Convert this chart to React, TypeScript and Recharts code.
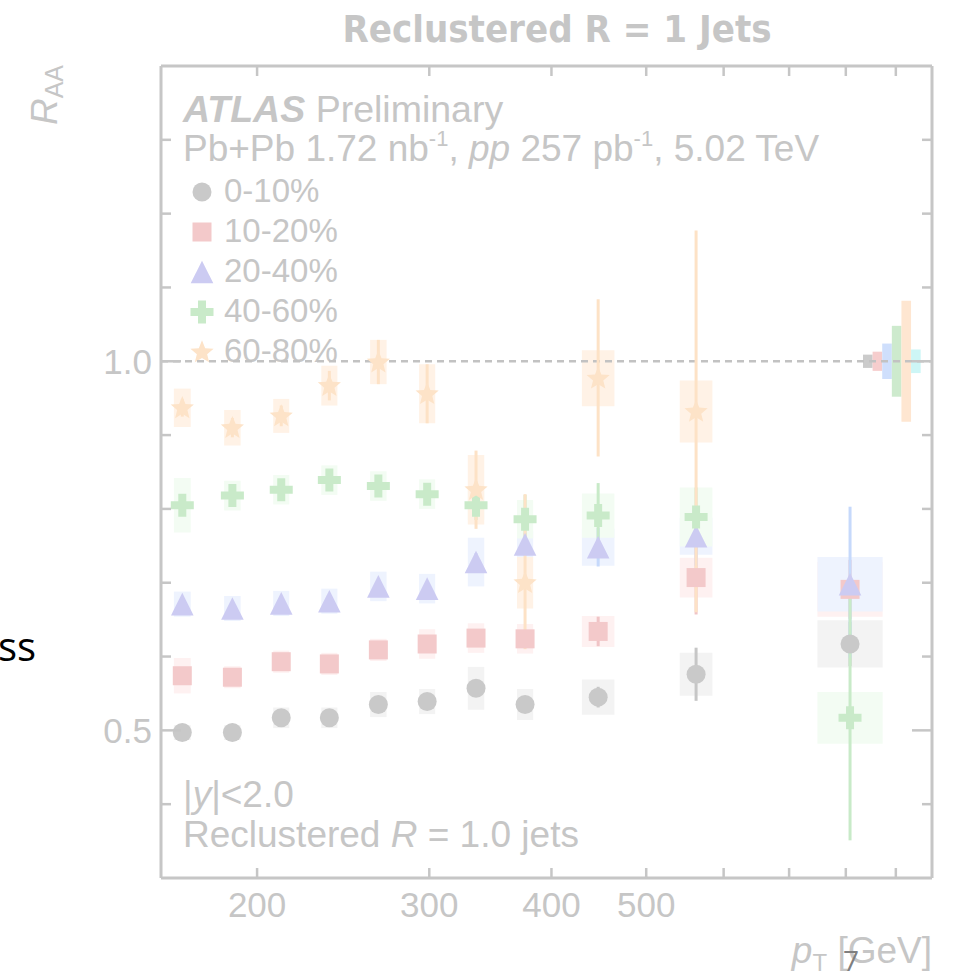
import React from 'react';
import { ComposedChart, XAxis, YAxis, Scatter, ErrorBar, ReferenceArea, ReferenceLine } from 'recharts';

// pT binning (GeV) and the points' positions inside each bin
const binEdges = [158, 178, 200, 224, 251, 282, 316, 355, 398, 501, 631, 1000];
const ptCenters = [167.7, 188.7, 211.7, 237.1, 266.1, 298.5, 334.9, 375.9, 446.5, 562.3, 808];

// R_AA per centrality class
const raa0to10 = [0.497, 0.497, 0.517, 0.517, 0.535, 0.539, 0.557, 0.535, 0.545, 0.576, 0.617];
const raa10to20 = [0.574, 0.572, 0.593, 0.590, 0.609, 0.617, 0.625, 0.624, 0.634, 0.707, 0.691];
const raa20to40 = [0.671, 0.665, 0.672, 0.675, 0.695, 0.692, 0.728, 0.752, 0.748, 0.763, 0.698];
const raa40to60 = [0.805, 0.818, 0.826, 0.839, 0.831, 0.820, 0.805, 0.786, 0.791, 0.789, 0.517];
const raa60to80 = [0.937, 0.910, 0.926, 0.967, 0.999, 0.956, 0.826, 0.700, 0.977, 0.932];

// statistical uncertainties [down, up]
const stat0to10 = [[0.005, 0.005], [0.005, 0.005], [0.005, 0.005], [0.005, 0.005], [0.006, 0.006], [0.006, 0.006], [0.008, 0.008], [0.01, 0.01], [0.014, 0.014], [0.036, 0.036], [0.03, 0.03]];
const stat10to20 = [[0.006, 0.006], [0.006, 0.006], [0.006, 0.006], [0.006, 0.006], [0.007, 0.007], [0.008, 0.008], [0.01, 0.01], [0.012, 0.012], [0.02, 0.02], [0.05, 0.05], [0.04, 0.04]];
const stat20to40 = [[0.006, 0.006], [0.006, 0.006], [0.006, 0.006], [0.007, 0.007], [0.008, 0.008], [0.01, 0.01], [0.012, 0.012], [0.015, 0.015], [0.026, 0.026], [0.04, 0.04], [0.1, 0.105]];
const stat40to60 = [[0.008, 0.008], [0.008, 0.008], [0.008, 0.008], [0.009, 0.009], [0.01, 0.01], [0.012, 0.012], [0.02, 0.02], [0.03, 0.033], [0.044, 0.044], [0.04, 0.04], [0.166, 0.167]];
const stat60to80 = [[0.012, 0.012], [0.013, 0.013], [0.014, 0.014], [0.02, 0.02], [0.03, 0.03], [0.04, 0.04], [0.053, 0.053], [0.09, 0.12], [0.106, 0.107], [0.272, 0.245]];

// systematic uncertainties (half height of the boxes)
const syst0to10 = [0.01, 0.01, 0.014, 0.014, 0.017, 0.017, 0.029, 0.021, 0.024, 0.029, 0.032];
const syst10to20 = [0.024, 0.015, 0.015, 0.015, 0.015, 0.02, 0.02, 0.02, 0.021, 0.027, 0.037];
const syst20to40 = [0.017, 0.017, 0.017, 0.017, 0.02, 0.02, 0.033, 0.018, 0.025, 0.025, 0.037];
const syst40to60 = [0.037, 0.02, 0.02, 0.02, 0.02, 0.02, 0.02, 0.026, 0.03, 0.04, 0.035];
const syst60to80 = [0.026, 0.024, 0.023, 0.027, 0.03, 0.04, 0.047, 0.035, 0.038, 0.042];

// normalisation uncertainties drawn at unity: 0-10, 10-20, 20-40, 40-60, 60-80, common
const normUnc = [0.009, 0.013, 0.024, 0.048, 0.082, 0.016];
const normColors = ['#cbcbcb', '#f6cdcd', '#cfdffc', '#cdeacd', '#fee6d1', '#cdf6f6'];
const normStartPt = 833;
const normStepRatio = 1.0229;

const xTicks = [200, 300, 400, 500, 600, 700, 800, 900];
const xLabelled = [200, 300, 400, 500];
const yTicks = [0.4, 0.5, 0.6, 0.7, 0.8, 0.9, 1.0, 1.1, 1.2, 1.3];
const yLabelled = [0.5, 1.0];

const FONT = "'Liberation Sans', Arial, Helvetica, sans-serif";
const GREY = '#c6c6c6';

type Kind = 'circle' | 'square' | 'triangle' | 'cross' | 'star';

const series = [
  { name: '0-10%', kind: 'circle' as Kind, raa: raa0to10, stat: stat0to10, syst: syst0to10, fill: '#c9c9c9', err: '#c6c6c6', box: '#f3f3f3' },
  { name: '10-20%', kind: 'square' as Kind, raa: raa10to20, stat: stat10to20, syst: syst10to20, fill: '#f3c9ca', err: '#f0c4c6', box: '#fef1f1' },
  { name: '20-40%', kind: 'triangle' as Kind, raa: raa20to40, stat: stat20to40, syst: syst20to40, fill: '#cccbf2', err: '#c6d9fb', box: '#eef3fe' },
  { name: '40-60%', kind: 'cross' as Kind, raa: raa40to60, stat: stat40to60, syst: syst40to60, fill: '#c9eac9', err: '#c8eac8', box: '#f3fcf3' },
  { name: '60-80%', kind: 'star' as Kind, raa: raa60to80, stat: stat60to80, syst: syst60to80, fill: '#fde3c8', err: '#fde2c6', box: '#fff2e6' },
];

const starPoints = (cx: number, cy: number, R: number, r: number) => {
  const pts: string[] = [];
  for (let i = 0; i < 10; i++) {
    const rad = i % 2 === 0 ? R : r;
    const a = -Math.PI / 2 + (i * Math.PI) / 5;
    pts.push(`${cx + rad * Math.cos(a)},${cy + rad * Math.sin(a)}`);
  }
  return pts.join(' ');
};

const crossPoints = (cx: number, cy: number, h: number, t: number) =>
  [
    [cx - t, cy - h], [cx + t, cy - h], [cx + t, cy - t], [cx + h, cy - t], [cx + h, cy + t], [cx + t, cy + t],
    [cx + t, cy + h], [cx - t, cy + h], [cx - t, cy + t], [cx - h, cy + t], [cx - h, cy - t], [cx - t, cy - t],
  ].map((p) => p.join(',')).join(' ');

const marker = (kind: Kind, cx: number, cy: number, fill: string) => {
  switch (kind) {
    case 'circle':
      return <circle cx={cx} cy={cy} r={9.5} fill={fill} />;
    case 'square':
      return <rect x={cx - 9.5} y={cy - 9.5} width={19} height={19} fill={fill} />;
    case 'triangle':
      return <polygon points={`${cx},${cy - 11.3} ${cx + 11.3},${cy + 11.3} ${cx - 11.3},${cy + 11.3}`} fill={fill} />;
    case 'cross':
      return <polygon points={crossPoints(cx, cy, 11.5, 4)} fill={fill} />;
    default:
      return <polygon points={starPoints(cx, cy + 0.5, 12.2, 5.4)} fill={fill} />;
  }
};

// box half-width: one sixth of the bin width in log space
const boxEdges = (i: number) => {
  const half = Math.pow(binEdges[i + 1] / binEdges[i], 1 / 6);
  return [ptCenters[i] / half, ptCenters[i] * half];
};

const LeftTick = (props: any) => {
  const { x, y, payload } = props;
  const major = yLabelled.includes(payload.value);
  return (
    <g>
      <line x1={x} x2={x + (major ? 20 : 10)} y1={y} y2={y} stroke={GREY} strokeWidth={2.5} />
      {major && (
        <text x={x - 9} y={y} dy="0.36em" textAnchor="end" fontSize={35} fill={GREY} fontFamily={FONT}>
          {payload.value.toFixed(1)}
        </text>
      )}
    </g>
  );
};

const RightTick = (props: any) => {
  const { x, y, payload } = props;
  const major = yLabelled.includes(payload.value);
  return <line x1={x} x2={x - (major ? 20 : 10)} y1={y} y2={y} stroke={GREY} strokeWidth={2.5} />;
};

const BottomTick = (props: any) => {
  const { x, y, payload } = props;
  return (
    <g>
      <line x1={x} x2={x} y1={y} y2={y - 10} stroke={GREY} strokeWidth={2.5} />
      {xLabelled.includes(payload.value) && (
        <text x={x} y={y + 39} textAnchor="middle" fontSize={35} fill={GREY} fontFamily={FONT}>
          {payload.value}
        </text>
      )}
    </g>
  );
};

const TopTick = (props: any) => {
  const { x, y } = props;
  return <line x1={x} x2={x} y1={y} y2={y + 10} stroke={GREY} strokeWidth={2.5} />;
};

export default function App() {
  const data = series.map((s) =>
    s.raa.map((v, i) => ({ pt: ptCenters[i], raa: v, err: s.stat[i] }))
  );

  return (
    <div style={{ position: 'absolute', left: 0, top: 0, width: 958, height: 973, background: '#fff' }}>
      <ComposedChart width={958} height={973} margin={{ top: 65, right: 25, bottom: 35, left: 101 }}>
        <XAxis
          xAxisId="bottom"
          type="number"
          dataKey="pt"
          scale="log"
          domain={[159.5, 980]}
          allowDataOverflow
          ticks={xTicks}
          interval={0}
          height={60}
          tickSize={0}
          tickMargin={0}
          tickLine={false}
          axisLine={{ stroke: GREY, strokeWidth: 3 }}
          tick={<BottomTick />}
        />
        <XAxis
          xAxisId="top"
          orientation="top"
          type="number"
          dataKey="pt"
          scale="log"
          domain={[159.5, 980]}
          allowDataOverflow
          ticks={xTicks}
          interval={0}
          height={1}
          tickSize={0}
          tickMargin={0}
          tickLine={false}
          axisLine={{ stroke: GREY, strokeWidth: 3 }}
          tick={<TopTick />}
        />
        <YAxis
          yAxisId="left"
          type="number"
          dataKey="raa"
          domain={[0.3, 1.4]}
          allowDataOverflow
          ticks={yTicks}
          interval={0}
          width={60}
          tickSize={0}
          tickMargin={0}
          tickLine={false}
          axisLine={{ stroke: GREY, strokeWidth: 3 }}
          tick={<LeftTick />}
        />
        <YAxis
          yAxisId="right"
          orientation="right"
          type="number"
          domain={[0.3, 1.4]}
          allowDataOverflow
          ticks={yTicks}
          interval={0}
          width={1}
          tickSize={0}
          tickMargin={0}
          tickLine={false}
          axisLine={{ stroke: GREY, strokeWidth: 3 }}
          tick={<RightTick />}
        />

        {series.map((s) =>
          s.raa.map((v, i) => {
            const [x1, x2] = boxEdges(i);
            return (
              <ReferenceArea
                key={`${s.name}-box-${i}`}
                xAxisId="bottom"
                yAxisId="left"
                x1={x1}
                x2={x2}
                y1={v - s.syst[i]}
                y2={v + s.syst[i]}
                fill={s.box}
                fillOpacity={1}
                stroke="none"
              />
            );
          })
        )}

        {normUnc.map((u, i) => (
          <ReferenceArea
            key={`norm-${i}`}
            xAxisId="bottom"
            yAxisId="left"
            x1={normStartPt * Math.pow(normStepRatio, i)}
            x2={normStartPt * Math.pow(normStepRatio, i + 1)}
            y1={1 - u}
            y2={1 + u}
            fill={normColors[i]}
            fillOpacity={1}
            stroke="none"
          />
        ))}

        <ReferenceLine xAxisId="bottom" yAxisId="left" y={1} stroke="#c2c2c2" strokeWidth={2.5} strokeDasharray="7 5" />

        {series.map((s, k) => (
          <Scatter
            key={s.name}
            name={s.name}
            xAxisId="bottom"
            yAxisId="left"
            data={data[k]}
            dataKey="raa"
            isAnimationActive={false}
            shape={(p: any) => marker(s.kind, p.cx, p.cy, s.fill)}
          >
            <ErrorBar dataKey="err" direction="y" width={0} stroke={s.err} strokeWidth={3} isAnimationActive={false} />
          </Scatter>
        ))}

        {/* title */}
        <text x={557} y={42} textAnchor="middle" fontSize={38} fontWeight="bold" fill={GREY}
          fontFamily="'DejaVu Sans Condensed', 'DejaVu Sans', Arial, sans-serif">
          Reclustered R = 1 Jets
        </text>

        {/* labels inside the frame */}
        <text x={183} y={122} fontSize={37.5} fill={GREY} fontFamily={FONT}>
          <tspan fontWeight="bold" fontStyle="italic">ATLAS</tspan> Preliminary
        </text>
        <text x={183} y={161} fontSize={37} fill={GREY} fontFamily={FONT}>
          Pb+Pb 1.72 nb<tspan fontSize={22} dy={-15}>-1</tspan>
          <tspan dy={15}>, </tspan>
          <tspan fontStyle="italic">pp</tspan> 257 pb<tspan fontSize={22} dy={-15}>-1</tspan>
          <tspan dy={15}>, 5.02 TeV</tspan>
        </text>
        {series.map((s, k) => (
          <g key={`leg-${s.name}`}>
            {marker(s.kind, 202, 192 + k * 40, s.fill)}
            <text x={224} y={202 + k * 40} fontSize={33} fill={GREY} fontFamily={FONT}>
              {s.name}
            </text>
          </g>
        ))}
        <text x={183} y={807} fontSize={37} fill={GREY} fontFamily={FONT}>
          |<tspan fontStyle="italic">y</tspan>|&lt;2.0
        </text>
        <text x={183} y={847} fontSize={37} fill={GREY} fontFamily={FONT}>
          Reclustered <tspan fontStyle="italic">R</tspan> = 1.0 jets
        </text>

        {/* axis titles */}
        <text transform="translate(57,65) rotate(-90)" textAnchor="end" fontSize={37} fill={GREY} fontFamily={FONT}>
          <tspan fontStyle="italic">R</tspan>
          <tspan fontSize={25} dy={6}>AA</tspan>
        </text>
        <text x={932} y={963} textAnchor="end" fontSize={37} fill={GREY} fontFamily={FONT}>
          <tspan fontStyle="italic">p</tspan>
          <tspan fontSize={24} dy={8}>T</tspan>
          <tspan dy={-8}> [GeV]</tspan>
        </text>

        {/* surrounding slide */}
        <text x={-2} y={661} fontSize={40} fill="#000" fontFamily="'Open Sans', sans-serif">ss</text>
        <text x={843} y={971} fontSize={28} fill="#7f7f7f" fontFamily="'Open Sans', sans-serif">7</text>
      </ComposedChart>
    </div>
  );
}
